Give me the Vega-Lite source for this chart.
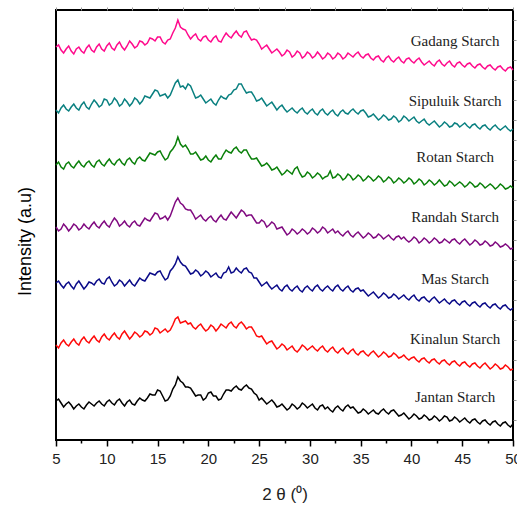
{
  "$schema": "https://vega.github.io/schema/vega-lite/v6.json",
  "width": 457,
  "height": 430,
  "autosize": "none",
  "padding": {"left": 56, "top": 10, "right": 4, "bottom": 70},
  "background": "white",
  "datasets": {
    "xrd": [
      {"x":5,"G":394,"S":331,"R":276,"D":214,"M":158,"K":96,"J":40},
      {"x":5.5,"G":391,"S":333,"R":274,"D":212,"M":156,"K":98,"J":38},
      {"x":6,"G":392,"S":332,"R":277,"D":214,"M":157,"K":97,"J":37},
      {"x":6.5,"G":390,"S":334,"R":275,"D":213,"M":155,"K":99,"J":36},
      {"x":7,"G":392,"S":333,"R":277,"D":215,"M":157,"K":98,"J":35},
      {"x":7.5,"G":390,"S":336,"R":276,"D":213,"M":156,"K":101,"J":34},
      {"x":8,"G":393,"S":334,"R":278,"D":214,"M":155,"K":100,"J":36},
      {"x":8.5,"G":391,"S":337,"R":276,"D":216,"M":158,"K":102,"J":37},
      {"x":9,"G":394,"S":338,"R":279,"D":215,"M":160,"K":101,"J":38},
      {"x":9.5,"G":392,"S":336,"R":277,"D":217,"M":158,"K":104,"J":37},
      {"x":10,"G":395,"S":341,"R":279,"D":216,"M":162,"K":103,"J":39},
      {"x":10.5,"G":393,"S":338,"R":278,"D":219,"M":159,"K":105,"J":38},
      {"x":11,"G":396,"S":340,"R":280,"D":220,"M":157,"K":104,"J":40},
      {"x":11.5,"G":394,"S":337,"R":278,"D":217,"M":159,"K":107,"J":38},
      {"x":12,"G":395,"S":339,"R":281,"D":216,"M":158,"K":106,"J":39},
      {"x":12.5,"G":397,"S":338,"R":279,"D":218,"M":157,"K":105,"J":37},
      {"x":13,"G":395,"S":341,"R":282,"D":216,"M":159,"K":107,"J":40},
      {"x":13.5,"G":399,"S":340,"R":281,"D":219,"M":161,"K":106,"J":41},
      {"x":14,"G":398,"S":344,"R":284,"D":221,"M":164,"K":109,"J":43},
      {"x":14.5,"G":402,"S":347,"R":287,"D":224,"M":167,"K":108,"J":46},
      {"x":15,"G":404,"S":350,"R":289,"D":227,"M":169,"K":112,"J":51},
      {"x":15.5,"G":399,"S":346,"R":285,"D":223,"M":165,"K":110,"J":45},
      {"x":16,"G":401,"S":343,"R":283,"D":221,"M":163,"K":109,"J":41},
      {"x":16.5,"G":408,"S":352,"R":292,"D":232,"M":173,"K":116,"J":52},
      {"x":17,"G":421,"S":361,"R":304,"D":243,"M":184,"K":124,"J":64},
      {"x":17.5,"G":412,"S":355,"R":294,"D":236,"M":176,"K":119,"J":58},
      {"x":18,"G":406,"S":357,"R":292,"D":231,"M":171,"K":117,"J":54},
      {"x":18.5,"G":405,"S":349,"R":287,"D":227,"M":168,"K":114,"J":49},
      {"x":19,"G":402,"S":344,"R":285,"D":224,"M":169,"K":115,"J":46},
      {"x":19.5,"G":404,"S":342,"R":282,"D":222,"M":167,"K":113,"J":41},
      {"x":20,"G":401,"S":340,"R":281,"D":223,"M":168,"K":112,"J":48},
      {"x":20.5,"G":403,"S":338,"R":283,"D":221,"M":166,"K":114,"J":45},
      {"x":21,"G":400,"S":341,"R":282,"D":223,"M":164,"K":113,"J":41},
      {"x":21.5,"G":404,"S":343,"R":287,"D":222,"M":168,"K":115,"J":47},
      {"x":22,"G":405,"S":346,"R":289,"D":225,"M":174,"K":117,"J":51},
      {"x":22.5,"G":407,"S":351,"R":292,"D":226,"M":169,"K":115,"J":53},
      {"x":23,"G":406,"S":357,"R":290,"D":227,"M":170,"K":117,"J":52},
      {"x":23.5,"G":409,"S":352,"R":291,"D":229,"M":172,"K":116,"J":54},
      {"x":24,"G":405,"S":349,"R":286,"D":226,"M":169,"K":114,"J":53},
      {"x":24.5,"G":402,"S":345,"R":282,"D":222,"M":163,"K":110,"J":48},
      {"x":25,"G":397,"S":341,"R":279,"D":218,"M":159,"K":104,"J":41},
      {"x":25.5,"G":394,"S":339,"R":276,"D":219,"M":157,"K":101,"J":40},
      {"x":26,"G":392,"S":337,"R":275,"D":216,"M":155,"K":99,"J":39},
      {"x":26.5,"G":390,"S":335,"R":272,"D":217,"M":154,"K":96,"J":38},
      {"x":27,"G":389,"S":334,"R":270,"D":213,"M":152,"K":94,"J":35},
      {"x":27.5,"G":387,"S":332,"R":268,"D":210,"M":154,"K":95,"J":34},
      {"x":28,"G":389,"S":331,"R":269,"D":208,"M":152,"K":93,"J":33},
      {"x":28.5,"G":386,"S":330,"R":272,"D":210,"M":153,"K":91,"J":35},
      {"x":29,"G":388,"S":331,"R":268,"D":209,"M":151,"K":92,"J":34},
      {"x":29.5,"G":385,"S":329,"R":265,"D":210,"M":153,"K":94,"J":36},
      {"x":30,"G":387,"S":330,"R":267,"D":209,"M":152,"K":93,"J":35},
      {"x":30.5,"G":385,"S":328,"R":265,"D":211,"M":154,"K":92,"J":33},
      {"x":31,"G":386,"S":330,"R":266,"D":210,"M":152,"K":93,"J":35},
      {"x":31.5,"G":384,"S":328,"R":264,"D":212,"M":153,"K":91,"J":32},
      {"x":32,"G":386,"S":329,"R":270,"D":210,"M":152,"K":92,"J":31},
      {"x":32.5,"G":384,"S":327,"R":264,"D":208,"M":154,"K":90,"J":33},
      {"x":33,"G":386,"S":329,"R":265,"D":207,"M":152,"K":91,"J":32},
      {"x":33.5,"G":384,"S":328,"R":263,"D":208,"M":153,"K":89,"J":34},
      {"x":34,"G":386,"S":330,"R":265,"D":206,"M":151,"K":90,"J":33},
      {"x":34.5,"G":387,"S":329,"R":263,"D":207,"M":152,"K":88,"J":31},
      {"x":35,"G":385,"S":330,"R":264,"D":206,"M":150,"K":89,"J":29},
      {"x":35.5,"G":386,"S":328,"R":262,"D":205,"M":148,"K":87,"J":30},
      {"x":36,"G":383,"S":325,"R":263,"D":206,"M":147,"K":88,"J":29},
      {"x":36.5,"G":384,"S":324,"R":262,"D":204,"M":146,"K":87,"J":28},
      {"x":37,"G":381,"S":323,"R":263,"D":205,"M":145,"K":86,"J":30},
      {"x":37.5,"G":383,"S":324,"R":261,"D":204,"M":146,"K":87,"J":29},
      {"x":38,"G":381,"S":322,"R":262,"D":203,"M":144,"K":85,"J":30},
      {"x":38.5,"G":382,"S":323,"R":260,"D":204,"M":145,"K":86,"J":28},
      {"x":39,"G":380,"S":321,"R":261,"D":202,"M":144,"K":84,"J":26},
      {"x":39.5,"G":382,"S":323,"R":260,"D":201,"M":143,"K":83,"J":25},
      {"x":40,"G":380,"S":322,"R":261,"D":201,"M":144,"K":83,"J":24},
      {"x":40.5,"G":381,"S":320,"R":259,"D":202,"M":142,"K":81,"J":25},
      {"x":41,"G":379,"S":320,"R":260,"D":200,"M":143,"K":82,"J":23},
      {"x":41.5,"G":378,"S":318,"R":258,"D":201,"M":141,"K":80,"J":24},
      {"x":42,"G":377,"S":318,"R":259,"D":200,"M":142,"K":81,"J":22},
      {"x":42.5,"G":379,"S":317,"R":258,"D":201,"M":141,"K":79,"J":23},
      {"x":43,"G":377,"S":316,"R":258,"D":199,"M":140,"K":80,"J":22},
      {"x":43.5,"G":378,"S":317,"R":256,"D":200,"M":139,"K":78,"J":24},
      {"x":44,"G":376,"S":315,"R":258,"D":201,"M":140,"K":79,"J":21},
      {"x":44.5,"G":378,"S":317,"R":257,"D":199,"M":138,"K":77,"J":22},
      {"x":45,"G":376,"S":316,"R":257,"D":200,"M":139,"K":78,"J":21},
      {"x":45.5,"G":377,"S":315,"R":256,"D":199,"M":137,"K":76,"J":20},
      {"x":46,"G":375,"S":316,"R":257,"D":198,"M":138,"K":77,"J":21},
      {"x":46.5,"G":376,"S":314,"R":255,"D":199,"M":136,"K":75,"J":19},
      {"x":47,"G":374,"S":315,"R":256,"D":197,"M":137,"K":76,"J":20},
      {"x":47.5,"G":375,"S":313,"R":255,"D":198,"M":135,"K":75,"J":18},
      {"x":48,"G":373,"S":314,"R":255,"D":196,"M":136,"K":74,"J":19},
      {"x":48.5,"G":374,"S":313,"R":254,"D":197,"M":134,"K":75,"J":17},
      {"x":49,"G":372,"S":313,"R":255,"D":195,"M":135,"K":73,"J":18},
      {"x":49.5,"G":373,"S":312,"R":253,"D":195,"M":133,"K":74,"J":16},
      {"x":50,"G":371,"S":312,"R":253,"D":193,"M":133,"K":72,"J":17},
      {"x":5.25,"G":396,"S":328,"R":279,"D":210,"M":160,"K":93,"J":42},
      {"x":5.75,"G":388,"S":336,"R":272,"D":217,"M":153,"K":101,"J":34},
      {"x":6.25,"G":395,"S":330,"R":279,"D":210,"M":159,"K":95,"J":39},
      {"x":6.75,"G":387,"S":337,"R":273,"D":217,"M":152,"K":102,"J":32},
      {"x":7.25,"G":394,"S":331,"R":280,"D":211,"M":160,"K":96,"J":37},
      {"x":7.75,"G":388,"S":339,"R":274,"D":217,"M":152,"K":104,"J":32},
      {"x":8.25,"G":396,"S":332,"R":280,"D":212,"M":159,"K":98,"J":39},
      {"x":8.75,"G":389,"S":341,"R":274,"D":219,"M":156,"K":105,"J":35},
      {"x":9.25,"G":397,"S":334,"R":281,"D":213,"M":162,"K":99,"J":40},
      {"x":9.75,"G":390,"S":342,"R":275,"D":220,"M":157,"K":107,"J":35},
      {"x":10.25,"G":398,"S":336,"R":282,"D":214,"M":164,"K":101,"J":41},
      {"x":10.75,"G":391,"S":343,"R":276,"D":223,"M":155,"K":108,"J":36},
      {"x":11.25,"G":399,"S":335,"R":282,"D":215,"M":161,"K":102,"J":42},
      {"x":11.75,"G":391,"S":342,"R":276,"D":220,"M":155,"K":110,"J":35},
      {"x":12.25,"G":400,"S":335,"R":283,"D":214,"M":161,"K":102,"J":41},
      {"x":12.75,"G":393,"S":343,"R":277,"D":220,"M":155,"K":109,"J":36},
      {"x":13.25,"G":400,"S":337,"R":284,"D":215,"M":163,"K":104,"J":43},
      {"x":13.75,"G":396,"S":345,"R":280,"D":223,"M":160,"K":110,"J":40},
      {"x":14.25,"G":403,"S":343,"R":288,"D":220,"M":168,"K":106,"J":47},
      {"x":14.75,"G":400,"S":351,"R":286,"D":228,"M":166,"K":113,"J":46},
      {"x":15.25,"G":404,"S":345,"R":290,"D":222,"M":170,"K":108,"J":50},
      {"x":15.75,"G":397,"S":347,"R":281,"D":225,"M":161,"K":112,"J":40},
      {"x":16.25,"G":402,"S":346,"R":289,"D":225,"M":170,"K":111,"J":45},
      {"x":16.75,"G":413,"S":358,"R":296,"D":239,"M":177,"K":122,"J":56},
      {"x":17.25,"G":414,"S":354,"R":297,"D":238,"M":179,"K":118,"J":60},
      {"x":17.75,"G":411,"S":352,"R":296,"D":232,"M":175,"K":120,"J":54},
      {"x":18.25,"G":402,"S":355,"R":287,"D":231,"M":167,"K":118,"J":53},
      {"x":18.75,"G":407,"S":343,"R":289,"D":222,"M":171,"K":112,"J":45},
      {"x":19.25,"G":400,"S":346,"R":281,"D":226,"M":165,"K":117,"J":46},
      {"x":19.75,"G":405,"S":338,"R":285,"D":220,"M":170,"K":110,"J":43},
      {"x":20.25,"G":399,"S":342,"R":279,"D":225,"M":164,"K":116,"J":49},
      {"x":20.75,"G":405,"S":336,"R":286,"D":219,"M":168,"K":110,"J":45},
      {"x":21.25,"G":399,"S":345,"R":282,"D":226,"M":163,"K":117,"J":42},
      {"x":21.75,"G":408,"S":342,"R":291,"D":221,"M":169,"K":113,"J":51},
      {"x":22.25,"G":403,"S":347,"R":288,"D":229,"M":168,"K":119,"J":50},
      {"x":22.75,"G":410,"S":352,"R":294,"D":223,"M":173,"K":113,"J":55},
      {"x":23.25,"G":404,"S":357,"R":288,"D":231,"M":168,"K":119,"J":51},
      {"x":23.75,"G":410,"S":348,"R":291,"D":225,"M":173,"K":112,"J":56},
      {"x":24.25,"G":401,"S":349,"R":282,"D":226,"M":168,"K":114,"J":52},
      {"x":24.75,"G":401,"S":340,"R":283,"D":218,"M":163,"K":105,"J":46},
      {"x":25.25,"G":392,"S":343,"R":275,"D":221,"M":155,"K":105,"J":43},
      {"x":25.75,"G":396,"S":335,"R":278,"D":214,"M":159,"K":97,"J":37},
      {"x":26.25,"G":388,"S":339,"R":271,"D":219,"M":152,"K":100,"J":41},
      {"x":26.75,"G":392,"S":331,"R":274,"D":212,"M":156,"K":92,"J":34},
      {"x":27.25,"G":385,"S":336,"R":266,"D":214,"M":150,"K":97,"J":37},
      {"x":27.75,"G":391,"S":329,"R":271,"D":206,"M":156,"K":91,"J":31},
      {"x":28.25,"G":384,"S":333,"R":267,"D":212,"M":150,"K":95,"J":37},
      {"x":28.75,"G":390,"S":328,"R":274,"D":207,"M":155,"K":89,"J":32},
      {"x":29.25,"G":383,"S":333,"R":264,"D":212,"M":149,"K":96,"J":38},
      {"x":29.75,"G":389,"S":327,"R":269,"D":207,"M":155,"K":91,"J":33},
      {"x":30.25,"G":383,"S":332,"R":263,"D":213,"M":150,"K":95,"J":37},
      {"x":30.75,"G":389,"S":326,"R":268,"D":208,"M":156,"K":90,"J":31},
      {"x":31.25,"G":382,"S":332,"R":262,"D":214,"M":150,"K":95,"J":36},
      {"x":31.75,"G":388,"S":326,"R":265,"D":208,"M":155,"K":89,"J":34},
      {"x":32.25,"G":382,"S":331,"R":263,"D":212,"M":150,"K":94,"J":29},
      {"x":32.75,"G":388,"S":325,"R":267,"D":210,"M":156,"K":88,"J":35},
      {"x":33.25,"G":382,"S":331,"R":261,"D":205,"M":150,"K":93,"J":30},
      {"x":33.75,"G":388,"S":327,"R":267,"D":210,"M":155,"K":87,"J":36},
      {"x":34.25,"G":384,"S":332,"R":261,"D":204,"M":149,"K":92,"J":34},
      {"x":34.75,"G":389,"S":327,"R":266,"D":209,"M":153,"K":86,"J":28},
      {"x":35.25,"G":383,"S":331,"R":260,"D":203,"M":151,"K":90,"J":32},
      {"x":35.75,"G":387,"S":324,"R":265,"D":208,"M":145,"K":85,"J":27},
      {"x":36.25,"G":381,"S":327,"R":260,"D":203,"M":149,"K":90,"J":31},
      {"x":36.75,"G":385,"S":321,"R":265,"D":207,"M":143,"K":84,"J":27},
      {"x":37.25,"G":379,"S":326,"R":259,"D":202,"M":148,"K":89,"J":32},
      {"x":37.75,"G":385,"S":321,"R":264,"D":206,"M":143,"K":84,"J":27},
      {"x":38.25,"G":379,"S":325,"R":258,"D":201,"M":147,"K":88,"J":31},
      {"x":38.75,"G":384,"S":319,"R":263,"D":205,"M":142,"K":83,"J":25},
      {"x":39.25,"G":378,"S":325,"R":258,"D":204,"M":146,"K":86,"J":28},
      {"x":39.75,"G":383,"S":320,"R":263,"D":199,"M":141,"K":81,"J":22},
      {"x":40.25,"G":378,"S":324,"R":257,"D":204,"M":146,"K":84,"J":27},
      {"x":40.75,"G":383,"S":318,"R":262,"D":198,"M":140,"K":79,"J":22},
      {"x":41.25,"G":376,"S":322,"R":256,"D":203,"M":144,"K":83,"J":26},
      {"x":41.75,"G":380,"S":316,"R":261,"D":198,"M":139,"K":78,"J":21},
      {"x":42.25,"G":375,"S":320,"R":256,"D":203,"M":144,"K":82,"J":25},
      {"x":42.75,"G":381,"S":314,"R":261,"D":198,"M":138,"K":77,"J":20},
      {"x":43.25,"G":375,"S":319,"R":255,"D":202,"M":142,"K":81,"J":25},
      {"x":43.75,"G":380,"S":314,"R":260,"D":198,"M":137,"K":76,"J":20},
      {"x":44.25,"G":374,"S":318,"R":255,"D":202,"M":141,"K":80,"J":24},
      {"x":44.75,"G":379,"S":314,"R":259,"D":197,"M":136,"K":75,"J":19},
      {"x":45.25,"G":374,"S":318,"R":254,"D":202,"M":140,"K":79,"J":23},
      {"x":45.75,"G":378,"S":313,"R":259,"D":196,"M":135,"K":74,"J":18},
      {"x":46.25,"G":373,"S":317,"R":254,"D":201,"M":139,"K":78,"J":22},
      {"x":46.75,"G":377,"S":312,"R":258,"D":196,"M":134,"K":73,"J":17},
      {"x":47.25,"G":372,"S":316,"R":253,"D":200,"M":138,"K":78,"J":21},
      {"x":47.75,"G":376,"S":311,"R":257,"D":195,"M":133,"K":72,"J":16},
      {"x":48.25,"G":371,"S":316,"R":252,"D":199,"M":137,"K":77,"J":20},
      {"x":48.75,"G":375,"S":311,"R":257,"D":194,"M":132,"K":72,"J":15},
      {"x":49.25,"G":370,"S":315,"R":252,"D":197,"M":136,"K":76,"J":19},
      {"x":49.75,"G":374,"S":310,"R":255,"D":192,"M":131,"K":71,"J":14}
    ],
    "labels": [
      {"name":"Gadang Starch","x":44.3,"y":400},
      {"name":"Sipuluik Starch","x":44.3,"y":340},
      {"name":"Rotan Starch","x":44.3,"y":284},
      {"name":"Randah Starch","x":44.3,"y":224},
      {"name":"Mas Starch","x":44.3,"y":162},
      {"name":"Kinalun Starch","x":44.3,"y":102},
      {"name":"Jantan Starch","x":44.3,"y":44}
    ]
  },
  "layer": [
    {
      "data": {"name": "xrd"},
      "transform": [{"fold": ["G","S","R","D","M","K","J"], "as": ["s","v"]}],
      "mark": {"type": "line", "strokeWidth": 1.5},
      "encoding": {
        "x": {
          "field": "x", "type": "quantitative",
          "scale": {"domain": [5, 50], "nice": false, "zero": false},
          "axis": {
            "orient": "bottom",
            "values": [5,7.5,10,12.5,15,17.5,20,22.5,25,27.5,30,32.5,35,37.5,40,42.5,45,47.5,50],
            "labelExpr": "datum.value % 5 === 0 ? datum.label : ''",
            "tickSize": {"condition": {"test": "datum.value % 5 === 0", "value": 6}, "value": 3},
            "tickColor": "#000", "tickWidth": 1.5,
            "domain": false, "grid": false,
            "labelFont": "Liberation Sans", "labelFontSize": 15, "labelColor": "#222",
            "labelPadding": 5, "labelFlush": false, "labelOverlap": false,
            "title": "2 θ (⁰)", "titleFont": "Liberation Sans", "titleFontSize": 17,
            "titleFontWeight": "normal", "titleColor": "#222", "titlePadding": 20
          }
        },
        "y": {
          "field": "v", "type": "quantitative",
          "scale": {"domain": [1, 431], "nice": false, "zero": false},
          "axis": {
            "orient": "left", "labels": false, "ticks": false, "domain": false, "grid": false,
            "title": "Intensity (a.u)", "titleFont": "Liberation Sans", "titleFontSize": 18,
            "titleFontWeight": "normal", "titleColor": "#000",
            "titleX": -31, "titleY": 231, "titleAngle": -90,
            "titleAlign": "center", "titleBaseline": "middle"
          }
        },
        "color": {
          "field": "s", "type": "nominal",
          "scale": {"domain": ["G","S","R","D","M","K","J"],
                    "range": ["#FF0A8C","#0A8080","#0A800A","#800A80","#0A0A88","#FF0A0A","#000000"]},
          "legend": null
        }
      }
    },
    {
      "data": {"name": "labels"},
      "mark": {"type": "text", "font": "Liberation Serif", "fontSize": 15, "color": "#222", "align": "center", "baseline": "middle"},
      "encoding": {
        "x": {
          "field": "x", "type": "quantitative",
          "axis": {
            "orient": "top",
            "values": [5,7.5,10,12.5,15,17.5,20,22.5,25,27.5,30,32.5,35,37.5,40,42.5,45,47.5,50],
            "labels": false, "domain": false, "grid": false, "title": null,
            "tickSize": 3, "tickColor": "#999", "tickWidth": 1
          }
        },
        "y": {
          "field": "y", "type": "quantitative",
          "axis": {
            "orient": "right",
            "values": [21,41,61,81,101,121,141,161,181,201,221,241,261,281,301,321,341,361,381,401,421],
            "labels": false, "domain": false, "grid": false, "title": null,
            "tickSize": 3, "tickColor": "#999", "tickWidth": 1
          }
        },
        "text": {"field": "name", "type": "nominal"}
      }
    }
  ],
  "resolve": {"axis": {"x": "independent", "y": "independent"}},
  "config": {
    "view": {"stroke": "#000", "strokeWidth": 2}
  }
}
